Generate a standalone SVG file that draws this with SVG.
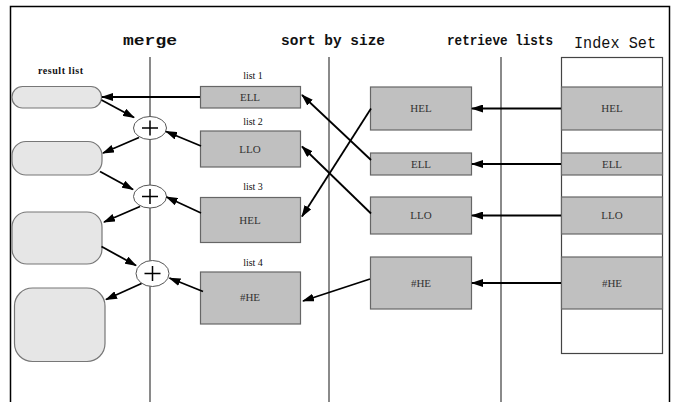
<svg xmlns="http://www.w3.org/2000/svg" width="673" height="402" viewBox="0 0 673 402">
<defs>
<marker id="ah" markerUnits="userSpaceOnUse" markerWidth="12" markerHeight="8" refX="11" refY="4" orient="auto">
<path d="M0,0 L12,4 L0,8 Z" fill="#000"/>
</marker>
<style>
.hd{font-family:"Liberation Mono",monospace;font-size:15px;font-weight:bold;fill:#111}
.hd2{font-family:"Liberation Mono",monospace;font-size:17px;font-weight:normal;fill:#111}
.lane{stroke:#8a8a8a;stroke-width:2;fill:none}
.box{fill:#c0c0c0;stroke:#666;stroke-width:1.2}
.pill{fill:#e6e6e6;stroke:#777;stroke-width:1.2}
.bt{font-family:"Liberation Serif",serif;font-size:11px;fill:#333;text-anchor:middle}
.lt{font-family:"Liberation Serif",serif;font-size:10px;fill:#111;text-anchor:middle}
.ar{stroke:#000;stroke-width:1.8;fill:none;marker-end:url(#ah)}
.op{fill:#fff;stroke:#555;stroke-width:1}
.pl{stroke:#000;stroke-width:1.5}
</style>
</defs>
<rect width="673" height="402" fill="#fff"/>
<path d="M10.5,402 V6.5 H669.5 V402" fill="none" stroke="#000" stroke-width="1.5"/>
<g id="headings">
<text class="hd" x="150" y="45" text-anchor="middle" textLength="54" lengthAdjust="spacingAndGlyphs">merge</text>
<text class="hd" x="333" y="45" text-anchor="middle" textLength="104" lengthAdjust="spacingAndGlyphs">sort by size</text>
<text class="hd" x="500" y="45" text-anchor="middle" textLength="106" lengthAdjust="spacingAndGlyphs">retrieve lists</text>
<text class="hd2" x="615" y="48" text-anchor="middle" textLength="82" lengthAdjust="spacingAndGlyphs">Index Set</text>
</g>
<g id="lanes">
<line class="lane" x1="150" y1="57" x2="150" y2="402"/>
<line class="lane" x1="329" y1="57" x2="329" y2="402"/>
<line class="lane" x1="501" y1="57" x2="501" y2="402"/>
</g>
<g id="index-set">
<rect x="561.5" y="57.5" width="101" height="296" fill="#fff" stroke="#444" stroke-width="1.2"/>
<g id="idx-hel"><rect class="box" x="561.5" y="87" width="101" height="43"/><text class="bt" x="612" y="112">HEL</text></g>
<g id="idx-ell"><rect class="box" x="561.5" y="153" width="101" height="22"/><text class="bt" x="612" y="168">ELL</text></g>
<g id="idx-llo"><rect class="box" x="561.5" y="197" width="101" height="37"/><text class="bt" x="612" y="219">LLO</text></g>
<g id="idx-he"><rect class="box" x="561.5" y="257" width="101" height="52"/><text class="bt" x="612" y="287">#HE</text></g>
</g>
<g id="sort-hel"><rect class="box" x="370.5" y="87" width="101" height="43"/><text class="bt" x="421" y="112">HEL</text></g>
<g id="sort-ell"><rect class="box" x="370.5" y="153" width="101" height="22"/><text class="bt" x="421" y="168">ELL</text></g>
<g id="sort-llo"><rect class="box" x="370.5" y="197" width="101" height="37"/><text class="bt" x="421" y="219">LLO</text></g>
<g id="sort-he"><rect class="box" x="370.5" y="257" width="101" height="52"/><text class="bt" x="421" y="287">#HE</text></g>
<g id="list1"><text class="lt" x="253" y="79">list 1</text><rect class="box" x="200.5" y="86.5" width="100" height="21.5"/><text class="bt" x="250" y="101">ELL</text></g>
<g id="list2"><text class="lt" x="253" y="125">list 2</text><rect class="box" x="200.5" y="131" width="100" height="36"/><text class="bt" x="250" y="153">LLO</text></g>
<g id="list3"><text class="lt" x="253" y="190">list 3</text><rect class="box" x="200.5" y="197.5" width="100" height="45"/><text class="bt" x="250" y="224">HEL</text></g>
<g id="list4"><text class="lt" x="253" y="266">list 4</text><rect class="box" x="200.5" y="272" width="100" height="52"/><text class="bt" x="250" y="301">#HE</text></g>
<g id="result-list">
<text x="38" y="74" font-family="Liberation Serif,serif" font-size="10" font-weight="bold" fill="#111" textLength="45" lengthAdjust="spacing">result list</text>
<rect id="res1" class="pill" x="12" y="86.5" width="89.5" height="21.5" rx="10.5"/>
<rect id="res2" class="pill" x="12" y="141.5" width="90" height="33.5" rx="14"/>
<rect id="res3" class="pill" x="12" y="212" width="90" height="52" rx="15"/>
<rect id="res4" class="pill" x="14.5" y="288" width="90.5" height="73.5" rx="18"/>
</g>
<g id="op1"><ellipse class="op" cx="150" cy="128" rx="16.5" ry="11.5"/><path class="pl" d="M142,128 H158 M150,120.5 V135.5"/></g>
<g id="op2"><ellipse class="op" cx="150" cy="196.5" rx="16.5" ry="11.5"/><path class="pl" d="M142,196.5 H158 M150,189 V204"/></g>
<g id="op3"><ellipse class="op" cx="152.5" cy="273.5" rx="16.5" ry="13"/><path class="pl" d="M144.5,273.5 H160.5 M152.5,266 V281"/></g>
<g id="connectors">
<line class="ar" x1="561" y1="108.5" x2="472" y2="108.5"/>
<line class="ar" x1="561" y1="164" x2="472" y2="164"/>
<line class="ar" x1="561" y1="215.5" x2="472" y2="215.5"/>
<line class="ar" x1="561" y1="283" x2="472" y2="283"/>
<line class="ar" x1="371" y1="160" x2="302" y2="95"/>
<line class="ar" x1="371" y1="108.5" x2="302" y2="216.5"/>
<line class="ar" x1="371" y1="213.5" x2="302" y2="146.5"/>
<line class="ar" x1="370" y1="279" x2="303" y2="301"/>
<line class="ar" x1="200" y1="97" x2="102" y2="97"/>
<line class="ar" x1="101.5" y1="100" x2="134" y2="117.5"/>
<line class="ar" x1="201" y1="146" x2="166" y2="131.5"/>
<line class="ar" x1="139" y1="137.5" x2="103" y2="153"/>
<line class="ar" x1="100" y1="171.5" x2="133" y2="189.5"/>
<line class="ar" x1="201" y1="213" x2="166.5" y2="197"/>
<line class="ar" x1="140" y1="206.5" x2="104" y2="222"/>
<line class="ar" x1="101.5" y1="246.5" x2="136" y2="265.5"/>
<line class="ar" x1="203" y1="291.5" x2="169.5" y2="278"/>
<line class="ar" x1="141.5" y1="283.5" x2="106" y2="299.5"/>
</g>
</svg>
